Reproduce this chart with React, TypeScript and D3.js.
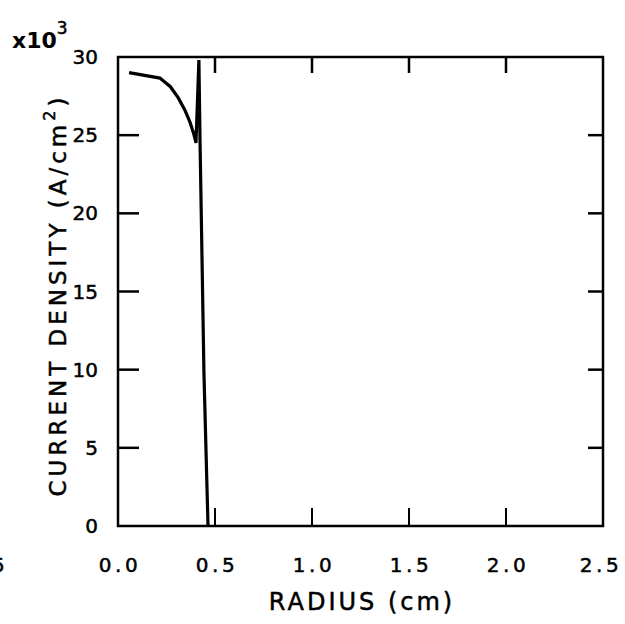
import React from "react";
import * as d3 from "d3";

const radius = [0.057, 0.216, 0.27, 0.31, 0.345, 0.372, 0.39, 0.402, 0.417, 0.423, 0.443, 0.464];
const density = [29.0, 28.65, 28.1, 27.4, 26.6, 25.8, 25.1, 24.5, 29.8, 24.5, 9.8, 0];
const xTicks = [0, 0.5, 1.0, 1.5, 2.0, 2.5];
const xTickLabels = ["0.0", "0.5", "1.0", "1.5", "2.0", "2.5"];
const yTicks = [0, 5, 10, 15, 20, 25, 30];
const yTickLabels = ["0", "5", "10", "15", "20", "25", "30"];

const W = 625, H = 624;
const L = 118, R = 603, T = 57, B = 526;

export default function App() {
  const x = d3.scaleLinear().domain([0, 2.5]).range([L, R]);
  const y = d3.scaleLinear().domain([0, 30]).range([B, T]);
  const pts: [number, number][] = radius.map((r, i) => [r, density[i]]);
  const line = d3.line<[number, number]>().x(d => x(d[0])).y(d => y(d[1])).curve(d3.curveLinear);
  const font = "'DejaVu Sans', sans-serif";
  const inner = xTicks.slice(1, -1);
  const innerY = yTicks.slice(1, -1);
  const thick = { stroke: "#000", strokeWidth: 0.5 };
  return (
    <svg width={W} height={H} style={{ position: "absolute", left: 0, top: 0, background: "#fff" }} fontFamily={font}>
      <rect x={L} y={T} width={R - L} height={B - T} fill="none" stroke="#000" strokeWidth={2.5} />
      {inner.map((t, i) => (
        <g key={"xt" + i}>
          <line x1={x(t)} x2={x(t)} y1={T} y2={T + 16} stroke="#000" strokeWidth={2.5} />
          <line x1={x(t)} x2={x(t)} y1={B} y2={B - 18} stroke="#000" strokeWidth={2} />
        </g>
      ))}
      {innerY.map((t, i) => (
        <g key={"yt" + i}>
          <line x1={L} x2={L + 21} y1={y(t)} y2={y(t)} stroke="#000" strokeWidth={2.5} />
          <line x1={R} x2={R - 15} y1={y(t)} y2={y(t)} stroke="#000" strokeWidth={2.5} />
        </g>
      ))}
      <path d={line(pts) || ""} fill="none" stroke="#000" strokeWidth={3.2} strokeLinejoin="miter" />
      {xTicks.map((t, i) => (
        <text key={"xl" + i} x={x(t) + (i === xTicks.length - 1 ? -2 : 2)} y={572} fontSize={20} textAnchor="middle" letterSpacing={3.5} {...thick}>
          {xTickLabels[i]}
        </text>
      ))}
      {yTicks.map((t, i) => (
        <text key={"yl" + i} x={98} y={y(t) + 7} fontSize={20} textAnchor="end" {...thick}>
          {yTickLabels[i]}
        </text>
      ))}
      <text x={362} y={610} fontSize={24} textAnchor="middle" letterSpacing={3} {...thick}>RADIUS (cm)</text>
      <text transform={`translate(66,295) rotate(-90)`} fontSize={23} textAnchor="middle" letterSpacing={4} {...thick}>
        CURRENT DENSITY (A/cm<tspan dy={-11} fontSize={16}>2</tspan><tspan dy={11}>)</tspan>
      </text>
      <text x={12} y={48} fontSize={22} fontWeight="bold">x10<tspan dy={-14} fontSize={17} fontWeight="normal" {...thick}>3</tspan></text>
      <text x={-8} y={572} fontSize={20} {...thick}>5</text>
    </svg>
  );
}
